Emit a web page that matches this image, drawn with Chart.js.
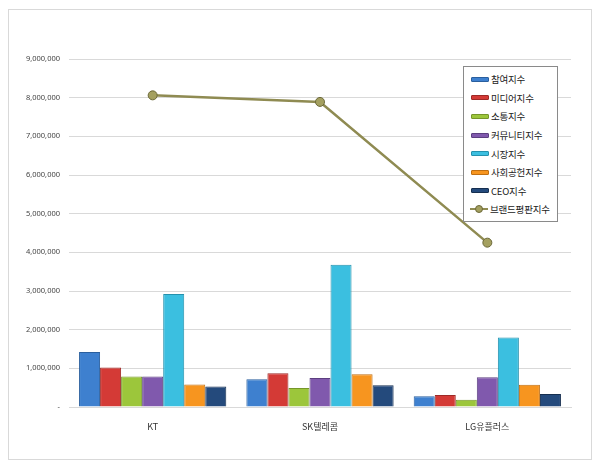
<!doctype html>
<html>
<head>
<meta charset="utf-8">
<title>브랜드평판지수</title>
<script src="https://cdn.jsdelivr.net/npm/chart.js@4/dist/chart.umd.min.js"></script>
<style>
  body { margin: 0; background: #fff; font-family: "Noto Sans CJK KR", "Noto Sans", sans-serif; }
  #frame { position: absolute; left: 8px; top: 9px; width: 582px; height: 449px; border: 1px solid #d9d9d9; }
  #legend { position: absolute; left: 463px; top: 66px; width: 95px; height: 156px; border: 1px solid #8a8a8a; background: #fff; box-sizing: border-box; padding-top: 3px; }
  .item { height: 18.6px; display: flex; align-items: center; font-size: 9.5px; letter-spacing: -0.2px; color: #222; white-space: nowrap; }
  .sw { width: 18px; height: 5px; margin: 0 2px 0 7px; box-sizing: border-box; border-radius: 1px; }
  .ln { position: relative; width: 18px; height: 2px; margin: 0 2px 0 6px; }
  .ln i { position: absolute; left: 5px; top: -3px; width: 8px; height: 8px; border-radius: 50%; box-sizing: border-box; }
</style>
</head>
<body>
<div id="frame"><canvas id="chart" width="582" height="449"></canvas></div>
<div id="legend"></div>
<script>
var companies = ['KT', 'SK텔레콤', 'LG유플러스'];
var seriesNames = ['참여지수', '미디어지수', '소통지수', '커뮤니티지수', '시장지수', '사회공헌지수', 'CEO지수'];
var participation = [1420000, 720000, 280000];
var media = [1020000, 870000, 310000];
var communication = [790000, 490000, 190000];
var community = [790000, 750000, 770000];
var market = [2920000, 3680000, 1800000];
var social = [585000, 850000, 575000];
var ceo = [530000, 560000, 335000];
var brandName = '브랜드평판지수';
var brandIndex = [8060000, 7890000, 4250000];
var yTicks = [0, 1000000, 2000000, 3000000, 4000000, 5000000, 6000000, 7000000, 8000000, 9000000];

var barValues = [participation, media, communication, community, market, social, ceo];
var fills = ['#3e80cf', '#d43a36', '#9cc63b', '#8059ad', '#3bbfe0', '#f7951f', '#244a7c'];
var edges = ['#2a5f9e', '#9e2a27', '#76962a', '#5c3f80', '#2591ad', '#c06f12', '#162f50'];

var datasets = [];
for (var i = 0; i < seriesNames.length; i++) {
  datasets.push({
    type: 'bar',
    label: seriesNames[i],
    data: barValues[i],
    backgroundColor: fills[i],
    borderColor: edges[i],
    borderWidth: 1,
    order: 1
  });
}
datasets.push({
  type: 'line',
  label: brandName,
  data: brandIndex,
  borderColor: '#8f8b52',
  borderWidth: 2.5,
  pointRadius: 4.5,
  pointBackgroundColor: '#a4a060',
  pointBorderColor: '#6b6838',
  pointBorderWidth: 1,
  order: 0
});

var chart = new Chart(document.getElementById('chart'), {
  type: 'bar',
  data: { labels: companies, datasets: datasets },
  options: {
    responsive: false,
    animation: false,
    layout: { padding: { top: 49, right: 20, left: 0, bottom: 0 } },
    plugins: { legend: { display: false }, tooltip: { enabled: false } },
    datasets: { bar: { categoryPercentage: 0.88, barPercentage: 1 } },
    scales: {
      x: {
        grid: { display: false },
        border: { color: '#d9d9d9' },
        ticks: { color: '#333', font: { size: 9, family: '"Noto Sans CJK KR"' }, padding: 6 },
        afterFit: function (s) { s.height = 52; }
      },
      y: {
        min: 0,
        max: 9000000,
        afterBuildTicks: function (s) { s.ticks = yTicks.map(function (v) { return { value: v }; }); },
        grid: { color: '#d9d9d9', drawTicks: false },
        border: { display: false },
        ticks: {
          color: '#444',
          padding: 9,
          font: { size: 7.5, family: '"Noto Sans"' },
          callback: function (v) { return v === 0 ? '-' : v.toLocaleString('en-US'); }
        },
        afterFit: function (s) { s.width = 60; }
      }
    }
  }
});

// legend box built from the chart's datasets
var box = document.getElementById('legend');
chart.data.datasets.forEach(function (ds) {
  var row = document.createElement('div');
  row.className = 'item';
  if (ds.type === 'line') {
    row.innerHTML = '<span class="ln" style="background:' + ds.borderColor + '"><i style="background:' + ds.pointBackgroundColor + ';border:1px solid ' + ds.pointBorderColor + '"></i></span>';
  } else {
    row.innerHTML = '<span class="sw" style="background:' + ds.backgroundColor + ';border:1px solid ' + ds.borderColor + '"></span>';
  }
  var t = document.createElement('span');
  t.textContent = ds.label;
  row.appendChild(t);
  box.appendChild(row);
});
</script>
</body>
</html>
